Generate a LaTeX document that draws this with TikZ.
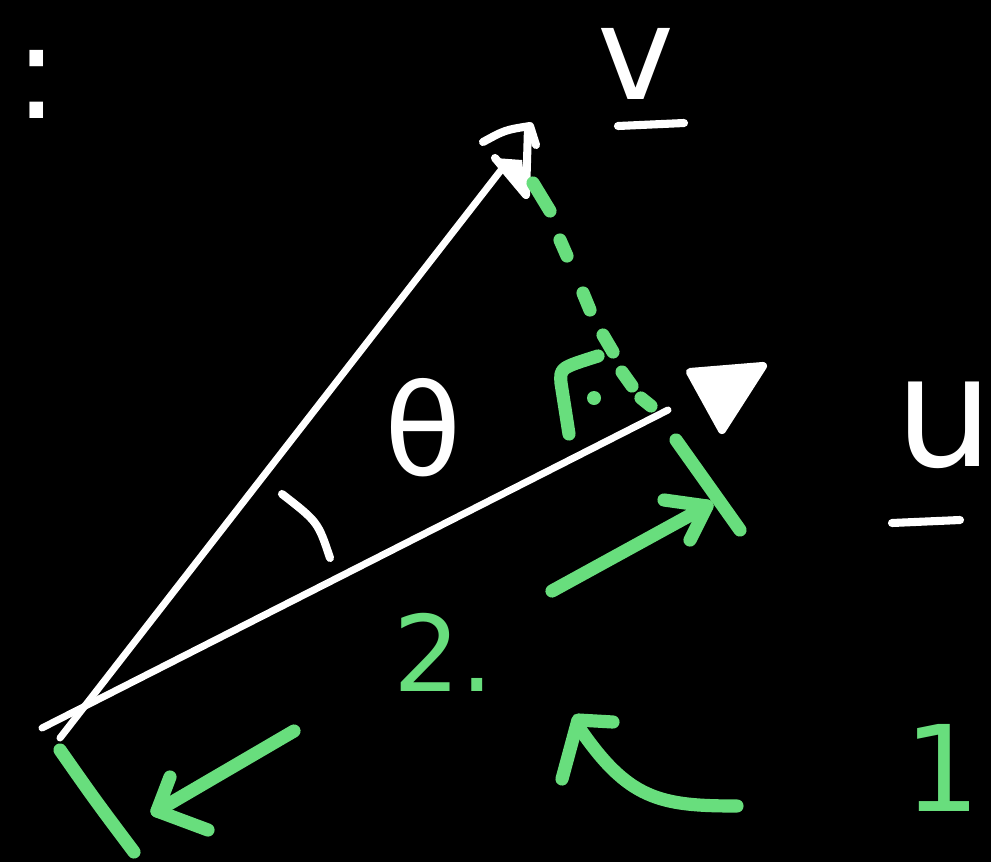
\documentclass[tikz,border=0pt]{standalone}
\usepackage{fontspec}
\setmainfont{DejaVu Sans}
\definecolor{chalkgreen}{RGB}{104,222,125}
\begin{document}
\begin{tikzpicture}[x=0.02cm,y=-0.02cm,
  wline/.style={draw=white,line width=4pt,line cap=round,line join=round},
  wmark/.style={draw=white,line width=4.6pt,line cap=round,line join=round},
  gline/.style={draw=chalkgreen,line width=7.5pt,line cap=round,line join=round},
  wtext/.style={text=white,inner sep=0pt},
  gtext/.style={text=chalkgreen,inner sep=0pt}]
\fill[black] (0,0) rectangle (991,862);
\useasboundingbox (0,0) rectangle (991,862);
% points
\coordinate (Ov) at (60,738);
\coordinate (V) at (505,165);
\coordinate (Ou) at (42,728);
\coordinate (U) at (668,410);
% vectors
\draw[wline] (Ov) -- (V);
\draw[wline] (Ou) -- (U);
% arrowhead of v
\coordinate (va1) at (483,142);
\coordinate (va2) at (530,126);
\coordinate (va3) at (526,195);
\fill[white] (495,158) -- (522,160) -- (526,195) -- cycle;
\draw[wmark] (va1) .. controls (505,130) .. (va2) -- (536,145);
\draw[wmark] (528,128) -- (va3) -- (495,158);
% arrowhead of u
\coordinate (ua1) at (690,372);
\coordinate (ua2) at (763,366);
\coordinate (ua3) at (722,430);
\fill[white] (ua1) -- (ua2) -- (ua3) -- cycle;
\draw[wmark] (ua1) -- (ua2) -- (ua3) -- cycle;
% angle arc
\coordinate (ar1) at (282,494);
\coordinate (ar2) at (330,558);
\draw[wmark] (ar1) .. controls (318,522) .. (ar2);
% labels
\node[wtext,font=\fontsize{74}{74}\selectfont] (vlab) at (636,64) {v};
\coordinate (vu1) at (618,126);
\coordinate (vu2) at (684,123);
\draw[wmark] (vu1) -- (vu2);
\node[wtext,font=\fontsize{88}{88}\selectfont] (ulab) at (944,424) {u};
\coordinate (uu1) at (892,523);
\coordinate (uu2) at (960,520);
\draw[wmark] (uu1) -- (uu2);
\node[wtext,font=\fontsize{72}{72}\selectfont] (theta) at (423,428) {θ};
\node[wtext,font=\fontsize{75}{75}\selectfont] (colon) at (37,84) {:};
% green projection (dashed)
\draw[gline] (533,183) -- (550,211);
\draw[gline] (560,240) -- (567,256);
\draw[gline] (583,293) -- (590,310);
\draw[gline] (603,335) -- (613,352);
\draw[gline] (622,372) -- (632,386);
\draw[gline] (641,398) -- (651,406);
% right angle mark
\coordinate (ra1) at (569,434);
\coordinate (ra2) at (598,356);
\draw[gline] (ra1) -- (561,383) .. controls (560,368) .. (ra2);
\fill[chalkgreen] (594,398) circle (7);
% tick at tip of u
\coordinate (t1) at (676,440);
\coordinate (t2) at (740,530);
\draw[gline] (t1) -- (t2);
% arrow along u to tip
\coordinate (a1s) at (552,591);
\coordinate (a1e) at (707,506);
\draw[gline] (a1s) -- (a1e);
\draw[gline] (664,500) -- (a1e) -- (690,540);
% tick at origin
\coordinate (t3) at (60,750);
\coordinate (t4) at (134,852);
\draw[gline] (t3) .. controls (95,800) .. (t4);
% arrow toward origin
\coordinate (a2s) at (294,731);
\coordinate (a2e) at (157,811);
\draw[gline] (a2s) -- (a2e);
\draw[gline] (170,777) -- (a2e) -- (208,830);
% curved arrow
\coordinate (c1) at (737,806);
\coordinate (c2) at (578,726);
\draw[gline] (c1) .. controls (660,806) and (628,800) .. (c2);
\draw[gline] (562,779) -- (578,720) -- (613,722);
% numbers
\node[gtext,font=\fontsize{60}{60}\selectfont] (two) at (444,652) {2.};
\node[gtext,font=\fontsize{68}{68}\selectfont] (one) at (942,768) {1};
\end{tikzpicture}
\end{document}
